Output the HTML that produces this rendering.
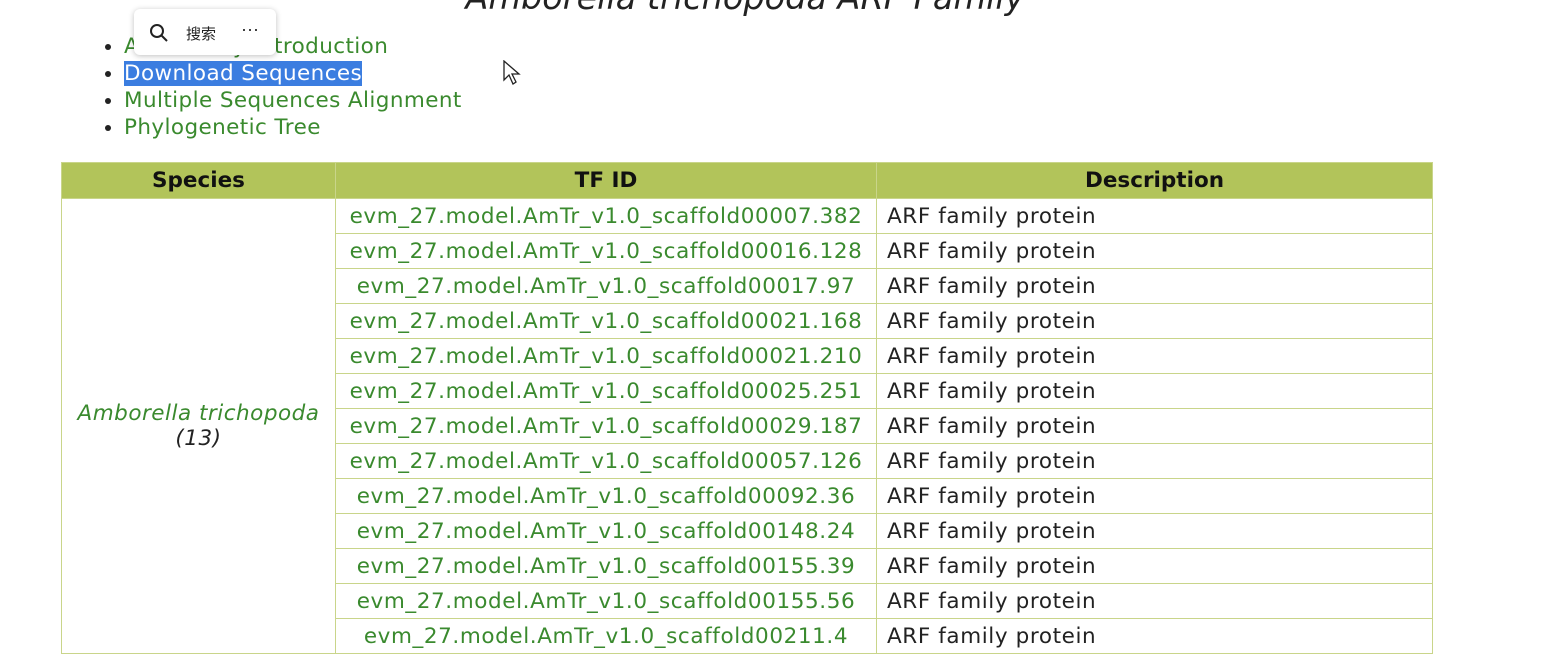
<!DOCTYPE html>
<html><head><meta charset="utf-8"><style>
body{margin:0;width:1568px;height:672px;overflow:hidden;background:#fff;font-family:"DejaVu Sans","Noto Sans CJK SC",sans-serif;position:relative}
.title{position:absolute;left:0;width:1490px;text-align:center;top:-22px;font-size:33.5px;font-style:italic;color:#222}
ul{position:absolute;left:100px;top:33px;margin:0;padding:0 0 0 24px;font-size:21.5px;line-height:27px;color:#3a8a2e;letter-spacing:0.4px}
ul li{list-style:disc;color:#222}
ul li span{color:#3a8a2e}
.sel{background:#3b7de0;color:#fff!important}
.pop{position:absolute;left:134px;top:9px;width:142px;height:46px;background:#fff;border-radius:6px;box-shadow:0 1px 6px rgba(0,0,0,.25);font-size:15px;color:#222;font-family:"Liberation Sans","Noto Sans CJK SC",sans-serif;letter-spacing:0}
table{position:absolute;left:61px;top:162px;border-collapse:collapse;font-size:21.5px;width:1372px}
th{background:#b2c45a;height:35px;padding:0;border:1px solid #c9d58a;font-size:21.5px;color:#111}
td{height:34px;padding:0;border:1px solid #c9d58a;}
td.id{color:#3a8a2e;text-align:center;width:540px;letter-spacing:0.6px}
td.d{color:#222;padding-left:10px;letter-spacing:0.6px}
td.sp{color:#3a8a2e;font-style:italic;text-align:center;width:273px;letter-spacing:0.5px}
</style></head><body>
<div class="title">Amborella trichopoda ARF Family</div>
<ul>
<li><span>ARF Family Introduction</span></li>
<li><span class="sel">Download Sequences</span></li>
<li><span>Multiple Sequences Alignment</span></li>
<li><span>Phylogenetic Tree</span></li>
</ul>
<div class="pop">
<svg style="position:absolute;left:15px;top:14px" width="20" height="20"><circle cx="8" cy="8" r="6" fill="none" stroke="#222" stroke-width="2"/><line x1="12.5" y1="12.5" x2="18" y2="18" stroke="#222" stroke-width="2"/></svg>
<span style="position:absolute;left:52px;top:14px">搜索</span>
<span style="position:absolute;left:107px;top:10px;font-size:18px">···</span>
</div>
<svg style="position:absolute;left:503px;top:60px" width="20" height="28"><path d="M1 1 L1 20 L6 15 L10 24 L13 22 L9 14 L16 14 Z" fill="#fff" stroke="#222" stroke-width="1.3"/></svg>
<table>
<tr><th>Species</th><th>TF ID</th><th>Description</th></tr>
<tr><td class="sp" rowspan="13">Amborella trichopoda<br><span style="color:#222">(13)</span></td><td class="id">evm_27.model.AmTr_v1.0_scaffold00007.382</td><td class="d">ARF family protein</td></tr>
<tr><td class="id">evm_27.model.AmTr_v1.0_scaffold00016.128</td><td class="d">ARF family protein</td></tr>
<tr><td class="id">evm_27.model.AmTr_v1.0_scaffold00017.97</td><td class="d">ARF family protein</td></tr>
<tr><td class="id">evm_27.model.AmTr_v1.0_scaffold00021.168</td><td class="d">ARF family protein</td></tr>
<tr><td class="id">evm_27.model.AmTr_v1.0_scaffold00021.210</td><td class="d">ARF family protein</td></tr>
<tr><td class="id">evm_27.model.AmTr_v1.0_scaffold00025.251</td><td class="d">ARF family protein</td></tr>
<tr><td class="id">evm_27.model.AmTr_v1.0_scaffold00029.187</td><td class="d">ARF family protein</td></tr>
<tr><td class="id">evm_27.model.AmTr_v1.0_scaffold00057.126</td><td class="d">ARF family protein</td></tr>
<tr><td class="id">evm_27.model.AmTr_v1.0_scaffold00092.36</td><td class="d">ARF family protein</td></tr>
<tr><td class="id">evm_27.model.AmTr_v1.0_scaffold00148.24</td><td class="d">ARF family protein</td></tr>
<tr><td class="id">evm_27.model.AmTr_v1.0_scaffold00155.39</td><td class="d">ARF family protein</td></tr>
<tr><td class="id">evm_27.model.AmTr_v1.0_scaffold00155.56</td><td class="d">ARF family protein</td></tr>
<tr><td class="id">evm_27.model.AmTr_v1.0_scaffold00211.4</td><td class="d">ARF family protein</td></tr>
</table>
</body></html>
